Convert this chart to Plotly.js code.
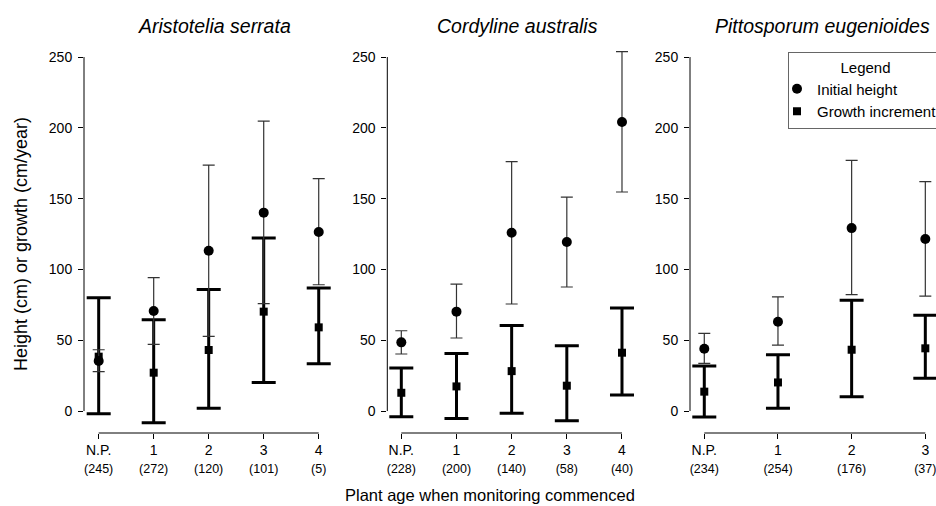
<!DOCTYPE html>
<html>
<head>
<meta charset="utf-8">
<script src="https://cdn.plot.ly/plotly-3.0.1.min.js"></script>
<style>html,body{margin:0;padding:0;background:#fff;}#chart{width:936px;height:506px;}</style>
</head>
<body>
<div id="chart"></div>
<script>
// ---- data ----
const categories = ['N.P.', '1', '2', '3', '4'];
const speciesNames = ['Aristotelia serrata', 'Cordyline australis', 'Pittosporum eugenioides'];

const A_counts   = [245, 272, 120, 101, 5];
const A_height   = [35.3, 70.6, 113.2, 140.1, 126.4];
const A_heightUp = [43.3, 94.2, 173.7, 204.8, 164.1];
const A_heightLo = [27.8, 47.1, 52.7, 75.8, 89.2];
const A_growth   = [38.4, 27.1, 43.1, 70.2, 59.1];
const A_growthUp = [80.0, 64.5, 85.9, 122.2, 86.9];
const A_growthLo = [-1.9, -8.2, 1.9, 20.2, 33.4];

const C_counts   = [228, 200, 140, 58, 40];
const C_height   = [48.5, 70.2, 125.9, 119.4, 204.1];
const C_heightUp = [56.7, 89.7, 176.1, 151.1, 253.8];
const C_heightLo = [40.3, 51.6, 75.6, 87.6, 154.7];
const C_growth   = [12.9, 17.4, 28.2, 17.9, 41.2];
const C_growthUp = [30.4, 40.7, 60.5, 46.1, 72.7];
const C_growthLo = [-4.0, -5.2, -1.6, -6.8, 11.3];

const P_counts   = [234, 254, 176, 37];
const P_height   = [44.0, 63.1, 129.2, 121.5];
const P_heightUp = [54.8, 80.7, 177.0, 162.0];
const P_heightLo = [33.7, 46.6, 82.2, 81.2];
const P_growth   = [13.7, 20.2, 43.3, 44.3];
const P_growthUp = [31.8, 39.8, 78.2, 67.6];
const P_growthLo = [-4.2, 1.9, 10.1, 23.1];

const yTicks = [0, 50, 100, 150, 200, 250];

// ---- layout helpers ----
const W = 936, H = 506;
const FONT = 'Liberation Sans, Arial, Helvetica, sans-serif';
const yRange = [-15.5, 258.5];
const yDomain = [(H - 433) / H, (H - 45) / H];

const panels = [
  {name: speciesNames[0], counts: A_counts, h: A_height, hu: A_heightUp, hl: A_heightLo, g: A_growth, gu: A_growthUp, gl: A_growthLo,
   px: [84, 335], range: [-0.267, 4.296], titleX: 214},
  {name: speciesNames[1], counts: C_counts, h: C_height, hu: C_heightUp, hl: C_heightLo, g: C_growth, gu: C_growthUp, gl: C_growthLo,
   px: [387.3, 645], range: [-0.254, 4.417], titleX: 517},
  {name: speciesNames[2], counts: P_counts, h: P_height, hu: P_heightUp, hl: P_heightLo, g: P_growth, gu: P_growthUp, gl: P_growthLo,
   px: [690, 936], range: [-0.194, 3.145], titleX: 822}
];

const traces = [];
const layout = {
  width: W, height: H,
  margin: {l: 0, r: 0, t: 0, b: 0, autoexpand: false},
  paper_bgcolor: '#fff', plot_bgcolor: 'rgba(0,0,0,0)',
  font: {family: FONT, color: '#000', size: 14},
  showlegend: true,
  legend: {
    x: 788 / W, y: (H - 52) / H, xanchor: 'left', yanchor: 'top',
    bgcolor: '#fff', bordercolor: '#666', borderwidth: 1,
    font: {family: FONT, size: 15, color: '#000'},
    title: {text: 'Legend', side: 'top center', font: {family: FONT, size: 15}},
    itemwidth: 30, tracegroupgap: 0, indentation: -12
  },
  shapes: [], annotations: []
};

panels.forEach((p, i) => {
  const k = i === 0 ? '' : String(i + 1);
  const xa = 'x' + k, ya = 'y' + k;
  const cats = categories.slice(0, p.counts.length);
  traces.push({
    type: 'scatter', mode: 'markers', x: cats, y: p.g, xaxis: xa, yaxis: ya,
    name: 'Growth increment', legendrank: 2, showlegend: i === 0, cliponaxis: false,
    marker: {symbol: 'square', size: 8, color: '#000'},
    error_y: {type: 'data', symmetric: false,
      array: p.gu.map((v, j) => v - p.g[j]), arrayminus: p.gl.map((v, j) => p.g[j] - v),
      color: '#000', thickness: 3, width: 12}
  });
  traces.push({
    type: 'scatter', mode: 'markers', x: cats, y: p.h, xaxis: xa, yaxis: ya,
    name: 'Initial height', legendrank: 1, showlegend: i === 0, cliponaxis: false,
    marker: {symbol: 'circle', size: 10, color: '#000'},
    error_y: {type: 'data', symmetric: false,
      array: p.hu.map((v, j) => v - p.h[j]), arrayminus: p.hl.map((v, j) => p.h[j] - v),
      color: '#333', thickness: 1.2, width: 6}
  });

  layout['xaxis' + k] = {
    type: 'category', domain: [p.px[0] / W, p.px[1] / W], range: p.range, anchor: ya,
    showgrid: false, zeroline: false, showline: false,
    ticks: 'outside', ticklen: 5, tickwidth: 1, tickcolor: '#000',
    tickvals: cats,
    ticktext: cats.map((c, j) => c + '<br><span style="font-size:12.5px">(' + p.counts[j] + ')</span>'),
    tickfont: {family: FONT, size: 14, color: '#000'}, ticklabelstandoff: -1, fixedrange: true
  };
  layout['yaxis' + k] = {
    domain: yDomain, range: yRange, anchor: xa,
    showgrid: false, zeroline: false, showline: false,
    ticks: 'outside', ticklen: 5, tickwidth: 1, tickcolor: '#000',
    tickvals: yTicks, ticktext: yTicks.map(String),
    tickfont: {family: FONT, size: 14, color: '#000'}, ticklabelstandoff: 3, fixedrange: true
  };
  // R-style axis lines: x from first to last category, y from 0 to 250
  const fx = v => (v - p.range[0]) / (p.range[1] - p.range[0]);
  const fy = v => (v - yRange[0]) / (yRange[1] - yRange[0]);
  layout.shapes.push({type: 'line', xref: xa + ' domain', yref: ya + ' domain',
    x0: fx(0), x1: fx(cats.length - 1), y0: 0, y1: 0, line: {color: '#000', width: 1}});
  layout.shapes.push({type: 'line', xref: xa + ' domain', yref: ya + ' domain',
    x0: 0, x1: 0, y0: fy(yTicks[0]), y1: fy(yTicks[yTicks.length - 1]), line: {color: '#000', width: 1}});
  layout.annotations.push({text: '<i>' + p.name + '</i>', xref: 'paper', yref: 'paper',
    x: p.titleX / W, y: (H - 26) / H, xanchor: 'center', yanchor: 'middle', showarrow: false,
    font: {family: FONT, size: 19.5, color: '#000'}});
});

layout.annotations.push({text: 'Plant age when monitoring commenced', xref: 'paper', yref: 'paper',
  x: 490 / W, y: (H - 495) / H, xanchor: 'center', yanchor: 'middle', showarrow: false,
  font: {family: FONT, size: 16.5, color: '#000'}});
layout.annotations.push({text: 'Height (cm) or growth (cm/year)', xref: 'paper', yref: 'paper',
  x: 21 / W, y: (H - 244) / H, xanchor: 'center', yanchor: 'middle', textangle: -90, showarrow: false,
  font: {family: FONT, size: 18, color: '#000'}});

Plotly.newPlot('chart', traces, layout, {displayModeBar: false, staticPlot: true});
</script>
</body>
</html>
